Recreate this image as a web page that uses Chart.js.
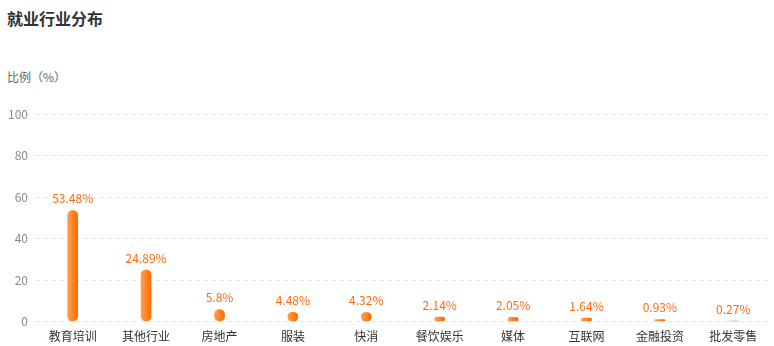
<!DOCTYPE html>
<html>
<head>
<meta charset="utf-8">
<script src="https://cdn.jsdelivr.net/npm/chart.js@4"></script>
<style>
  body { margin: 0; background: #fff; font-family: "Noto Sans CJK SC", "Noto Sans", sans-serif; }
  #wrap { position: relative; width: 774px; height: 346px; }
  #title { position: absolute; left: 7px; top: 6px; font-size: 16px; font-weight: bold; color: #333; }
  #unit { position: absolute; left: 7px; top: 68px; font-size: 12px; color: #666; }
  #box { position: absolute; left: 0; top: 99px; width: 774px; height: 247px; }
</style>
</head>
<body>
<div id="wrap">
  <div id="title">就业行业分布</div>
  <div id="unit">比例（%）</div>
  <div id="box"><canvas id="chart"></canvas></div>
</div>
<script>
const categories = ["教育培训", "其他行业", "房地产", "服装", "快消", "餐饮娱乐", "媒体", "互联网", "金融投资", "批发零售"];
const shares = [53.48, 24.89, 5.8, 4.48, 4.32, 2.14, 2.05, 1.64, 0.93, 0.27];
const yTicks = [0, 20, 40, 60, 80, 100];

const font = '"Noto Sans CJK SC", "Noto Sans", sans-serif';

// horizontal gradient on each bar, lighter on the left
function barColor(ctx) {
    const xScale = ctx.chart.scales.x;
    if (!xScale || ctx.dataIndex == null) return '#ff7a1a';
    const cx = xScale.getPixelForValue(ctx.dataIndex);
    if (!isFinite(cx)) return '#ff7a1a';
    const g = ctx.chart.ctx.createLinearGradient(cx - 5, 0, cx + 5, 0);
    g.addColorStop(0, '#ffa04d');
    g.addColorStop(1, '#ff6a00');
    return g;
}

const valueLabels = {
    id: 'valueLabels',
    afterDatasetsDraw(chart) {
        const c = chart.ctx;
        const meta = chart.getDatasetMeta(0);
        c.save();
        c.font = '12px ' + font;
        c.fillStyle = '#ff6a10';
        c.textAlign = 'center';
        c.textBaseline = 'bottom';
        meta.data.forEach((bar, i) => {
            c.fillText(shares[i] + '%', bar.x, bar.y - 6);
        });
        c.restore();
    }
};

new Chart(document.getElementById('chart'), {
    type: 'bar',
    data: {
        labels: categories,
        datasets: [{
            data: shares,
            backgroundColor: barColor,
            barThickness: 10,
            borderRadius: 5,
            borderSkipped: false
        }]
    },
    options: {
        responsive: true,
        maintainAspectRatio: false,
        animation: false,
        layout: { padding: { top: 11, right: 4, left: 0, bottom: 2 } },
        plugins: {
            legend: { display: false },
            tooltip: { enabled: false }
        },
        scales: {
            x: {
                grid: { display: false },
                border: { display: false },
                ticks: { color: '#333', font: { size: 12, family: font }, padding: 0 }
            },
            y: {
                min: 0,
                max: 100,
                afterBuildTicks: axis => { axis.ticks = yTicks.map(v => ({ value: v })); },
                grid: { color: '#e6e6e6', drawTicks: false },
                border: { display: false, dash: [4, 4] },
                ticks: { color: '#888', font: { size: 12, family: font }, padding: 8 }
            }
        }
    },
    plugins: [valueLabels]
});
</script>
</body>
</html>
